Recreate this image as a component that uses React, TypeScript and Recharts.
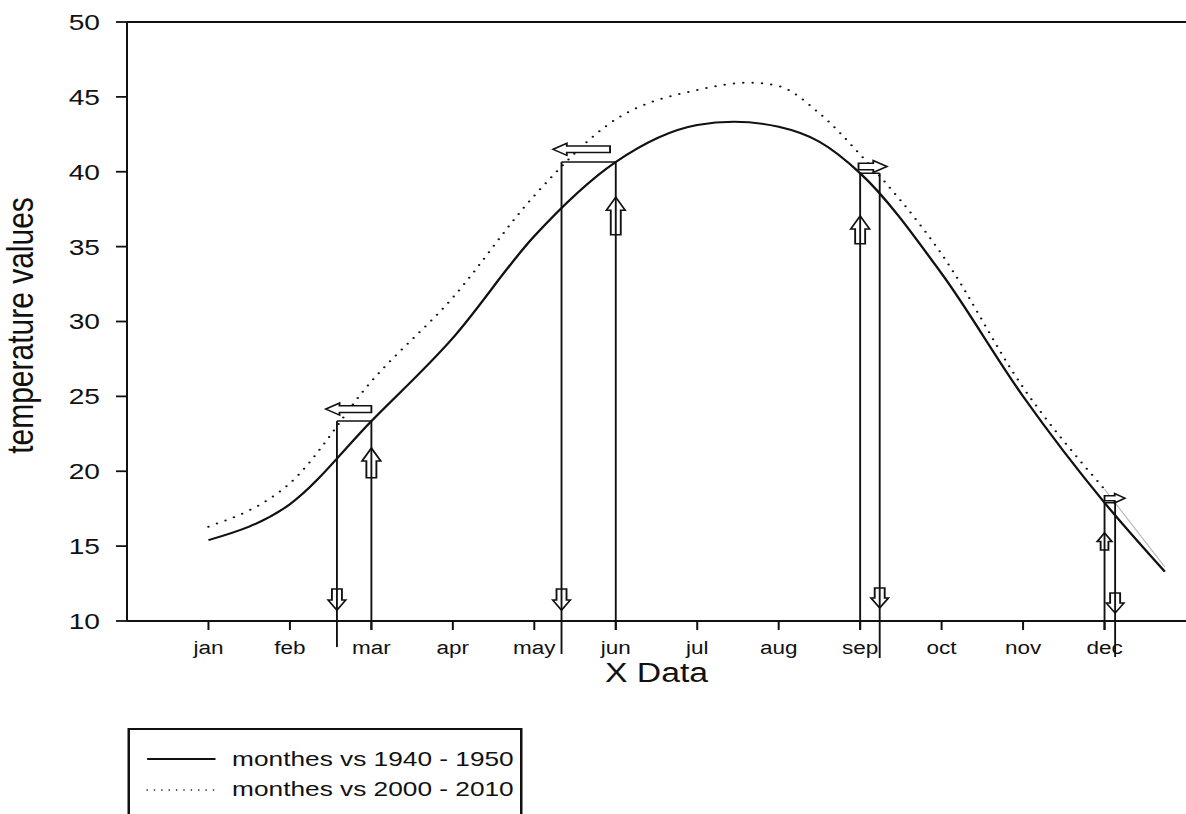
import React from 'react';
import { LineChart, Line, XAxis, YAxis, ReferenceLine, Legend } from 'recharts';

// ---------- data ----------
const monthLabels = ['jan', 'feb', 'mar', 'apr', 'may', 'jun', 'jul', 'aug', 'sep', 'oct', 'nov', 'dec'];
const monthTicks = [1, 2, 3, 4, 5, 6, 7, 8, 9, 10, 11, 12];
const yTicks = [10, 15, 20, 25, 30, 35, 40, 45, 50];
const seriesNames = ['monthes vs 1940 - 1950', 'monthes vs 2000 - 2010'];

const x1940 = [1, 2, 3, 4, 5, 6, 7, 7.45, 8, 8.5, 9, 10, 11, 12, 12.74];
const t1940 = [15.4, 17.8, 23.35, 28.9, 35.7, 40.65, 43.12, 43.34, 43.0, 42.0, 39.9, 33.2, 25.0, 17.9, 13.3];

const x2000 = [1, 2, 3, 4, 5, 6, 7, 7.64, 8, 8.5, 9, 10, 11, 12];
const t2000 = [16.3, 19.2, 26.0, 31.6, 38.4, 43.5, 45.46, 45.95, 45.72, 43.9, 41.15, 34.5, 25.6, 18.8];

const xTail = [12, 12.74];
const tTail = [18.8, 13.6];

// shift annotations: month of the 1940-1950 value, value, where 2000-2010 reaches it
const shiftMonth = [3, 6, 9, 12];
const shiftValue = [23.35, 40.65, 39.9, 17.9];
const shiftMatchX = [2.577, 5.334, 9.24, 12.13];
const lowerEndY = [8.26, 7.8, 7.53, 7.6];
const tickEndY = 9.4;

// horizontal hollow arrows (tail -> tip)
const hArrowTailX = [3.0, 5.93, 8.98, 12.0];
const hArrowTipX = [2.44, 5.23, 9.33, 12.25];
const hArrowY = [24.15, 41.5, 40.35, 18.2];
// up arrows on month lines
const upTailY = [19.57, 35.8, 35.2, 14.74];
const upTipY = [21.55, 38.3, 37.05, 15.88];
// down arrows on matching lines
const downTopY = [12.14, 12.14, 12.2, 11.87];
const downTipY = [10.73, 10.73, 10.87, 10.53];

// ---------- style ----------
const arrowScale = [1, 1, 1, 0.78];
const FONT = '"Liberation Sans", Arial, sans-serif';
const INK = '#111';
const STRETCH = 1.25;
const W = 1186 / STRETCH;
const H = 814;

const data1940 = x1940.map((x, i) => ({ x, y: t1940[i] }));
const data2000 = x2000.map((x, i) => ({ x, y: t2000[i] }));
const dataTail = xTail.map((x, i) => ({ x, y: tTail[i] }));

const makeArrow = (hw: number, sw: number, hlMax: number, fill: string) => (props: any) => {
  const { x1, y1, x2, y2 } = props;
  const dx = x2 - x1;
  const dy = y2 - y1;
  const len = Math.hypot(dx, dy) || 1;
  const ux = dx / len;
  const uy = dy / len;
  const nx = -uy;
  const ny = ux;
  const hl = Math.min(hlMax, len * 0.5);
  const bx = x2 - ux * hl;
  const by = y2 - uy * hl;
  const pts = [
    [x1 + nx * sw, y1 + ny * sw],
    [bx + nx * sw, by + ny * sw],
    [bx + nx * hw, by + ny * hw],
    [x2, y2],
    [bx - nx * hw, by - ny * hw],
    [bx - nx * sw, by - ny * sw],
    [x1 - nx * sw, y1 - ny * sw],
  ];
  return (
    <polygon
      points={pts.map((p) => p.join(',')).join(' ')}
      fill={fill}
      stroke={INK}
      strokeWidth={1.5}
      strokeLinejoin="miter"
    />
  );
};

const LegendBox = () => (
  <div
    style={{
      width: 316,
      height: 100,
      border: `2px solid ${INK}`,
      boxSizing: 'border-box',
      background: '#fff',
    }}
  >
    <svg width={312} height={96} style={{ display: 'block' }}>
      <line x1={13.7} x2={68.4} y1={29} y2={29} stroke={INK} strokeWidth={2} />
      <text x={81.7} y={36} fontSize={21} fontFamily={FONT} fill={INK}>
        {seriesNames[0]}
      </text>
      <line
        x1={13.7}
        x2={68.4}
        y1={60}
        y2={60}
        stroke={INK}
        strokeWidth={1.4}
        strokeDasharray="0 5.9"
        strokeLinecap="round"
      />
      <text x={81.7} y={66} fontSize={21} fontFamily={FONT} fill={INK}>
        {seriesNames[1]}
      </text>
    </svg>
  </div>
);

const YLabel = (props: any) => {
  const vb = props.viewBox || { x: 0, y: 22, width: 101.6, height: 599 };
  const cx = vb.x + 26.5;
  const cy = vb.y + vb.height / 2 + 4;
  return (
    <text
      x={cx}
      y={cy}
      transform={`rotate(-90, ${cx}, ${cy})`}
      textAnchor="middle"
      fontSize={30}
      fontFamily={FONT}
      fill={INK}
    >
      temperature values
    </text>
  );
};

const XLabel = (props: any) => {
  const vb = props.viewBox || { x: 101.6, y: 621, width: 847, height: 193 };
  return (
    <text
      x={vb.x + vb.width / 2}
      y={vb.y + 61}
      textAnchor="middle"
      fontSize={27}
      fontFamily={FONT}
      fill={INK}
    >
      X Data
    </text>
  );
};

export default function App() {
  const lineStroke = { stroke: INK, strokeWidth: 1.5 };
  return (
    <div
      style={{
        position: 'absolute',
        left: 0,
        top: 0,
        width: W,
        height: H,
        transform: `scaleX(${STRETCH})`,
        transformOrigin: '0 0',
        background: '#fff',
      }}
    >
      <LineChart width={W} height={H} margin={{ top: 22, right: 0, bottom: 0, left: 0 }}>
        <XAxis
          type="number"
          dataKey="x"
          domain={[0, 13]}
          ticks={monthTicks}
          tickFormatter={(v: number) => monthLabels[v - 1]}
          allowDataOverflow
          height={193}
          tickSize={9}
          tickMargin={11}
          axisLine={{ stroke: INK, strokeWidth: 1.8 }}
          tickLine={{ stroke: INK, strokeWidth: 1.6 }}
          tick={{ fontSize: 18, fontFamily: FONT, fill: INK }}
          label={{ content: XLabel }}
        />
        <YAxis
          type="number"
          domain={[10, 50]}
          ticks={yTicks}
          allowDataOverflow
          width={101.6}
          tickSize={8.8}
          tickMargin={12.8}
          axisLine={{ stroke: INK, strokeWidth: 1.6 }}
          tickLine={{ stroke: INK, strokeWidth: 1.8 }}
          tick={{ fontSize: 22.5, fontFamily: FONT, fill: INK }}
          label={{ content: YLabel }}
        />
        <ReferenceLine y={50} stroke={INK} strokeWidth={1.8} />

        <Line
          data={data1940}
          dataKey="y"
          name={seriesNames[0]}
          type="monotone"
          stroke={INK}
          strokeWidth={2}
          dot={false}
          isAnimationActive={false}
        />
        <Line
          data={data2000}
          dataKey="y"
          name={seriesNames[1]}
          type="monotone"
          stroke={INK}
          strokeWidth={2}
          strokeDasharray="0 7.5"
          strokeLinecap="round"
          dot={false}
          isAnimationActive={false}
        />
        <Line
          data={dataTail}
          dataKey="y"
          name="tail"
          type="monotone"
          stroke="#b8b8b8"
          strokeWidth={1}
          dot={false}
          legendType="none"
          isAnimationActive={false}
        />

        {shiftMonth.map((m, i) => (
          <ReferenceLine
            key={`mv${i}`}
            segment={[{ x: m, y: shiftValue[i] }, { x: m, y: tickEndY }]}
            ifOverflow="visible"
            {...lineStroke}
          />
        ))}
        {shiftMatchX.map((mx, i) => (
          <ReferenceLine
            key={`sv${i}`}
            segment={[{ x: mx, y: shiftValue[i] }, { x: mx, y: lowerEndY[i] }]}
            ifOverflow="visible"
            {...lineStroke}
          />
        ))}
        {shiftMatchX.map((mx, i) => (
          <ReferenceLine
            key={`hz${i}`}
            segment={[{ x: mx, y: shiftValue[i] }, { x: shiftMonth[i], y: shiftValue[i] }]}
            ifOverflow="visible"
            {...lineStroke}
          />
        ))}
        {hArrowTipX.map((tx, i) => (
          <ReferenceLine
            key={`ha${i}`}
            segment={[{ x: hArrowTailX[i], y: hArrowY[i] }, { x: tx, y: hArrowY[i] }]}
            ifOverflow="visible"
            shape={makeArrow(6 * arrowScale[i], 3.3 * arrowScale[i], 11 * arrowScale[i], '#fff')}
          />
        ))}
        {shiftMonth.map((m, i) => (
          <ReferenceLine
            key={`ua${i}`}
            segment={[{ x: m, y: upTailY[i] }, { x: m, y: upTipY[i] }]}
            ifOverflow="visible"
            shape={makeArrow(7.5 * arrowScale[i], 4 * arrowScale[i], 13 * arrowScale[i], 'none')}
          />
        ))}
        {shiftMatchX.map((mx, i) => (
          <ReferenceLine
            key={`da${i}`}
            segment={[{ x: mx, y: downTopY[i] }, { x: mx, y: downTipY[i] }]}
            ifOverflow="visible"
            shape={makeArrow(7, 4, 10, 'none')}
          />
        ))}

        <Legend
          layout="horizontal"
          verticalAlign="middle"
          align="center"
          content={LegendBox}
          wrapperStyle={{ position: 'absolute', left: 101.6, top: 728, width: 316, height: 100 }}
        />
      </LineChart>
    </div>
  );
}
